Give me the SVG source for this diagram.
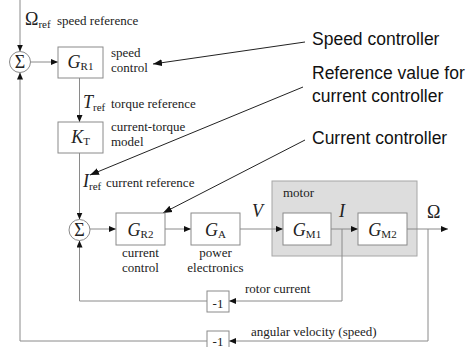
<svg xmlns="http://www.w3.org/2000/svg" width="474" height="347" viewBox="0 0 474 347">
<defs>
<marker id="ah" markerUnits="userSpaceOnUse" markerWidth="8" markerHeight="6" refX="7" refY="3" orient="auto"><path d="M0,0 L7,3 L0,6 Z" fill="#111"/></marker>
<marker id="ah2" markerUnits="userSpaceOnUse" markerWidth="10" markerHeight="8" refX="9" refY="4" orient="auto"><path d="M0,0.5 L9,4 L0,7.5 Z" fill="#111"/></marker>
<style>
.ln{fill:none;stroke:#8a8a8a;stroke-width:1}
.an{fill:none;stroke:#222;stroke-width:1}
.bx{fill:#fff;stroke:#8a8a8a;stroke-width:1}
.t{font-family:"Liberation Serif","Times New Roman",serif;font-size:13px;fill:#222}
.m{font-family:"Liberation Serif","Times New Roman",serif;font-size:18px;font-style:italic;fill:#222}
.s{font-family:"Liberation Serif","Times New Roman",serif;font-size:11px;font-style:normal;fill:#222}
.sy{font-family:"Liberation Serif","Times New Roman",serif;font-size:18px;fill:#222}
.a{font-family:"Liberation Sans",Arial,sans-serif;font-size:17.5px;fill:#111}
</style>
</defs>
<rect id="motor" x="272" y="181" width="145" height="75" fill="#dddddd" stroke="#a6a6a6"/>
<text class="t" x="283" y="197">motor</text>
<g id="connectors">
<line class="ln" x1="20" y1="0" x2="20" y2="51.5" marker-end="url(#ah)"/>
<line class="ln" x1="30.5" y1="62" x2="58" y2="62" marker-end="url(#ah)"/>
<line class="ln" x1="79.5" y1="78" x2="79.5" y2="122" marker-end="url(#ah)"/>
<line class="ln" x1="79.5" y1="153" x2="79.5" y2="219.5" marker-end="url(#ah)"/>
<line class="ln" x1="90" y1="229" x2="116" y2="229" marker-end="url(#ah)"/>
<line class="ln" x1="165" y1="229" x2="191" y2="229" marker-end="url(#ah)"/>
<line class="ln" x1="240" y1="229" x2="283" y2="229" marker-end="url(#ah)"/>
<line class="ln" x1="331" y1="229" x2="358" y2="229" marker-end="url(#ah)"/>
<line class="ln" x1="407" y1="229" x2="448" y2="229" marker-end="url(#ah)"/>
<polyline class="ln" points="342,229 342,301 229,301" marker-end="url(#ah)"/>
<polyline class="ln" points="207,301 79.5,301 79.5,240.5" marker-end="url(#ah)"/>
<polyline class="ln" points="428,229 428,341 229,341" marker-end="url(#ah)"/>
<polyline class="ln" points="207,341 20,341 20,72.5" marker-end="url(#ah)"/>
<line class="an" x1="305" y1="42" x2="153" y2="64" marker-end="url(#ah2)"/>
<line class="an" x1="303" y1="87" x2="90" y2="175" marker-end="url(#ah2)"/>
<line class="an" x1="305" y1="140" x2="163" y2="213" marker-end="url(#ah2)"/>
</g>
<g id="sum1">
<circle cx="20" cy="62" r="10.5" fill="#fff" stroke="#8a8a8a"/>
<text class="sy" x="20" y="68" text-anchor="middle" font-size="17">Σ</text>
</g>
<g id="sum2">
<circle cx="79.5" cy="230" r="10.5" fill="#fff" stroke="#8a8a8a"/>
<text class="sy" x="79.5" y="236" text-anchor="middle" font-size="17">Σ</text>
</g>
<g id="GR1">
<rect class="bx" x="58" y="47" width="45" height="31"/>
<text class="m" x="80.5" y="68" text-anchor="middle">G<tspan class="s" dy="2">R1</tspan></text>
</g>
<g id="KT">
<rect class="bx" x="58" y="122" width="45" height="31"/>
<text class="m" x="80.5" y="143" text-anchor="middle">K<tspan class="s" dy="2">T</tspan></text>
</g>
<g id="GR2">
<rect class="bx" x="116" y="213" width="49" height="32"/>
<text class="m" x="140.5" y="236" text-anchor="middle">G<tspan class="s" dy="2">R2</tspan></text>
</g>
<g id="GA">
<rect class="bx" x="191" y="213" width="49" height="32"/>
<text class="m" x="215.5" y="236" text-anchor="middle">G<tspan class="s" dy="2">A</tspan></text>
</g>
<g id="GM1">
<rect class="bx" x="283" y="213" width="48" height="32"/>
<text class="m" x="307" y="236" text-anchor="middle">G<tspan class="s" dy="2">M1</tspan></text>
</g>
<g id="GM2">
<rect class="bx" x="358" y="213" width="49" height="32"/>
<text class="m" x="382.5" y="236" text-anchor="middle">G<tspan class="s" dy="2">M2</tspan></text>
</g>
<g id="neg1">
<rect class="bx" x="207" y="291" width="22" height="21"/>
<text class="t" x="218" y="307.5" text-anchor="middle" font-size="17">-1</text>
</g>
<g id="neg2">
<rect class="bx" x="207" y="331" width="22" height="22"/>
<text class="t" x="218" y="345.5" text-anchor="middle" font-size="16">-1</text>
</g>
<g id="labels">
<text class="sy" x="25" y="25">Ω<tspan class="s" dy="3">ref</tspan></text>
<text class="t" x="57" y="25">speed reference</text>
<text class="t" x="111" y="57">speed</text>
<text class="t" x="111" y="72">control</text>
<text class="m" x="83" y="108">T<tspan class="s" dy="3">ref</tspan></text>
<text class="t" x="111" y="108">torque reference</text>
<text class="t" x="111" y="131">current-torque</text>
<text class="t" x="111" y="146">model</text>
<text class="m" x="83" y="187">I<tspan class="s" dy="3">ref</tspan></text>
<text class="t" x="106" y="187">current reference</text>
<text class="t" x="140.5" y="257" text-anchor="middle">current</text>
<text class="t" x="140.5" y="272" text-anchor="middle">control</text>
<text class="t" x="215.5" y="257" text-anchor="middle">power</text>
<text class="t" x="215.5" y="272" text-anchor="middle">electronics</text>
<text class="m" x="252" y="217">V</text>
<text class="m" x="339" y="217">I</text>
<text class="sy" x="427" y="218">Ω</text>
<text class="t" x="245" y="293">rotor current</text>
<text class="t" x="251" y="336">angular velocity (speed)</text>
<text class="a" x="312" y="45">Speed controller</text>
<text class="a" x="312" y="79">Reference value for</text>
<text class="a" x="312" y="102">current controller</text>
<text class="a" x="312" y="144">Current controller</text>
</g>
</svg>
